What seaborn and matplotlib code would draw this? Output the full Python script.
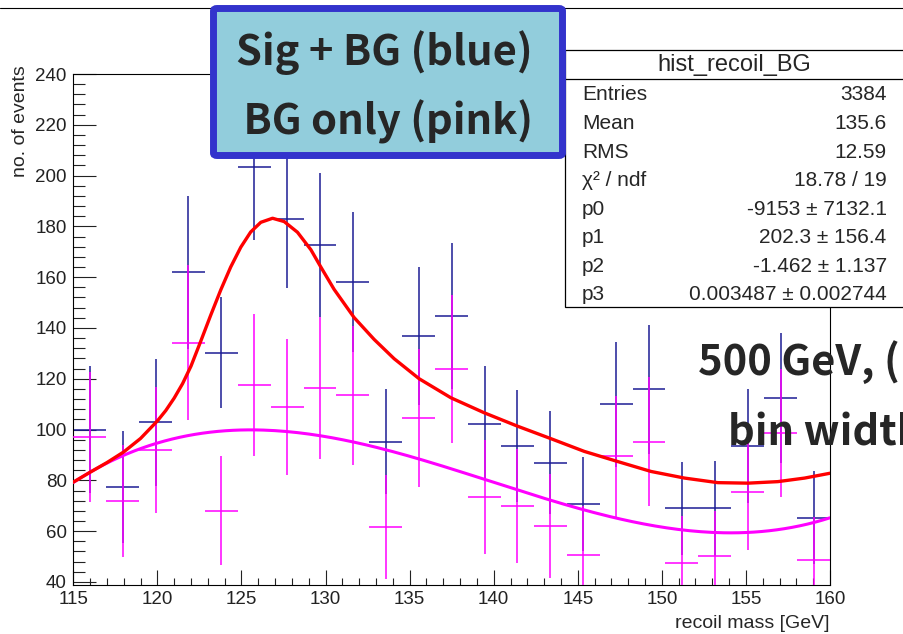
import numpy as np
import pandas as pd
import matplotlib
matplotlib.use("Agg")
import matplotlib.pyplot as plt
import seaborn as sns
from matplotlib.patches import Rectangle, FancyBboxPatch
from matplotlib.lines import Line2D
from matplotlib.ticker import MultipleLocator

# ---- histogram binning (recoil mass, GeV) ----
mass_lo, mass_hi, n_bins = 115.0, 160.0, 23

# Signal + background histogram (blue)
sig_bg_counts = [100.0, 77.5, 102.8, 161.9, 130.3, 203.4, 182.8, 172.7, 158.2, 95.3, 136.7, 144.7,
                 102.3, 93.4, 86.9, 70.7, 110.0, 115.8, 69.0, 69.0, 93.4, 112.3, 65.3]
sig_bg_errors = [25.0, 22.0, 25.0, 30.0, 21.7, 28.6, 27.0, 28.5, 27.5, 20.5, 27.2, 28.7,
                 22.7, 22.0, 20.3, 18.5, 24.6, 25.4, 18.4, 18.8, 22.4, 25.6, 18.2]

# Background-only histogram (pink)
bg_counts = [97.1, 71.8, 92.0, 134.2, 68.1, 117.4, 108.8, 116.3, 113.5, 61.5, 104.6, 123.8,
             73.4, 70.0, 62.0, 50.8, 89.4, 95.3, 47.5, 50.1, 75.5, 98.6, 48.6]
bg_errors = [25.7, 22.0, 24.7, 30.6, 21.3, 28.0, 26.7, 28.0, 27.4, 20.5, 27.1, 29.0,
             22.4, 22.5, 20.5, 19.0, 23.7, 25.4, 18.5, 18.0, 23.0, 25.2, 17.0]

# Signal + background fit curve (red)
sig_bg_fit_mass = [115.0, 116.0, 117.0, 118.0, 119.0, 120.0, 120.5, 121.0, 121.5, 122.0, 122.58,
                   123.17, 123.77, 124.36, 124.96, 125.55, 126.15, 126.85, 127.54, 128.33, 129.13,
                   129.72, 130.51, 131.70, 132.89, 134.08, 135.57, 137.46, 139.44, 141.43, 143.41,
                   145.39, 147.38, 149.36, 151.35, 153.33, 155.12, 156.90, 158.49, 160.0]
sig_bg_fit_value = [79.3, 83.2, 87.0, 91.2, 96.5, 103.4, 107.5, 112.4, 118.1, 125.0, 134.8,
                    145.0, 155.0, 164.0, 171.8, 177.8, 181.6, 183.2, 181.9, 177.7, 170.8,
                    164.0, 155.2, 144.1, 135.5, 127.9, 120.0, 112.5, 106.6, 101.3, 96.4,
                    91.4, 87.4, 83.5, 80.9, 79.1, 78.9, 79.5, 80.9, 82.8]

# Background cubic fit p0 + p1*m + p2*m^2 + p3*m^3 (pink curve)
bg_fit_coeffs = [-9152.6, 202.349, -1.46245, 0.00348651]

# Statistics box contents
stats_title = "hist_recoil_BG"
stats_names = ["Entries", "Mean", "RMS", "\u03c7\u00b2 / ndf", "p0", "p1", "p2", "p3"]
stats_values = ["3384", "135.6", "12.59", "18.78 / 19", "-9153 \u00b1 7132.1",
                "202.3 \u00b1 156.4", "-1.462 \u00b1 1.137", "0.003487 \u00b1 0.002744"]

legend_lines = ["Sig + BG (blue)", " BG only (pink)"]
note_lines = ["500 GeV, (", "bin width"]

x_ticks = [115, 120, 125, 130, 135, 140, 145, 150, 155, 160]
y_ticks = [40, 60, 80, 100, 120, 140, 160, 180, 200, 220, 240]

# ---- derived tables ----
edges = np.linspace(mass_lo, mass_hi, n_bins + 1)
centers = 0.5 * (edges[:-1] + edges[1:])
half_w = 0.5 * (edges[1:] - edges[:-1])

fit_grid = np.linspace(mass_lo, mass_hi, 200)
bg_fit_df = pd.DataFrame({
    "mass": fit_grid,
    "events": sum(c * fit_grid ** i for i, c in enumerate(bg_fit_coeffs)),
})
sig_fit_df = pd.DataFrame({"mass": sig_bg_fit_mass, "events": sig_bg_fit_value})

# ---- style ----
sns.set_theme(style="ticks")
plt.rcParams["font.family"] = ["Liberation Sans", "DejaVu Sans"]
plt.rcParams["axes.edgecolor"] = "black"
plt.rcParams["xtick.color"] = "#222222"
plt.rcParams["ytick.color"] = "#222222"

W, H = 904, 634
fig = plt.figure(figsize=(W / 100, H / 100), dpi=100)
fig.patch.set_facecolor("white")


def fx(px):
    return px / W


def fy(py):
    return 1 - py / H


ax_l, ax_r, ax_t, ax_b = 73.3, 830.0, 74.0, 585.0
ax = fig.add_axes([fx(ax_l), fy(ax_b), (ax_r - ax_l) / W, (ax_b - ax_t) / H])
ax.set_facecolor("white")

blue = "#1c1c94"
pink = "#ff00ff"

ax.errorbar(centers, sig_bg_counts, xerr=half_w, yerr=sig_bg_errors, fmt="none",
            ecolor=blue, elinewidth=1.1, capsize=0, zorder=2)
ax.errorbar(centers, bg_counts, xerr=half_w, yerr=bg_errors, fmt="none",
            ecolor=pink, elinewidth=1.1, capsize=0, zorder=3)

sns.lineplot(data=bg_fit_df, x="mass", y="events", ax=ax, color=pink,
             linewidth=2.2, sort=False, estimator=None, zorder=4)
sns.lineplot(data=sig_fit_df, x="mass", y="events", ax=ax, color="#ff0000",
             linewidth=2.4, sort=False, estimator=None, zorder=5)

ax.set_xlim(mass_lo, mass_hi)
ax.set_ylim(38.8, 240)
ax.set_xticks(x_ticks)
ax.set_yticks(y_ticks)
ax.xaxis.set_minor_locator(MultipleLocator(1))
ax.yaxis.set_minor_locator(MultipleLocator(4))
ax.set_xlabel("")
ax.set_ylabel("")
ax.tick_params(axis="y", which="major", direction="in", length=16.6, width=0.8,
               labelsize=13.5, pad=4.8)
ax.tick_params(axis="y", which="minor", direction="in", length=8.4, width=0.8)
ax.tick_params(axis="x", which="major", direction="in", length=10.8, width=0.8,
               labelsize=13.5, pad=4.0)
ax.tick_params(axis="x", which="minor", direction="in", length=4.8, width=0.8)
for sp in ax.spines.values():
    sp.set_visible(True)
    sp.set_linewidth(0.8)
    sp.set_color("black")

# axis titles
fig.text(fx(830), fy(628), "recoil mass [GeV]", ha="right", va="baseline", fontsize=14)
fig.text(fx(21), fy(65), "no. of events", ha="center", va="top", rotation=90, fontsize=14)

# outer top rule
fig.add_artist(Line2D([0, 1], [fy(8), fy(8)], transform=fig.transFigure,
                      color="black", linewidth=0.8, zorder=1))

# statistics box
fig.add_artist(Rectangle((fx(565), fy(307)), (906 - 565) / W, (307 - 50) / H,
                         transform=fig.transFigure, facecolor="white",
                         edgecolor="black", linewidth=0.9, zorder=10))
fig.add_artist(Line2D([fx(565), fx(906)], [fy(79), fy(79)], transform=fig.transFigure,
                      color="black", linewidth=0.9, zorder=11))
fig.text(fx(734), fy(65), stats_title, ha="center", va="center", fontsize=17, zorder=12)
row0, row_step = 95.0, 28.57
for i, (name, val) in enumerate(zip(stats_names, stats_values)):
    yy = row0 + i * row_step
    fig.text(fx(582), fy(yy), name, ha="left", va="center", fontsize=15, zorder=12)
    fig.text(fx(886.7), fy(yy), val, ha="right", va="center", fontsize=15, zorder=12)

# legend box
fig.add_artist(FancyBboxPatch((fx(213.5), fy(155.5)), (562.5 - 213.5) / W, (155.5 - 8.5) / H,
                              boxstyle="round,pad=0,rounding_size=0.004",
                              transform=fig.transFigure, facecolor="#92cddc",
                              edgecolor="#3333cc", linewidth=5.0, zorder=20))
cjk = ["Noto Sans CJK JP", "DejaVu Sans"]
fig.text(fx(384), fy(65), legend_lines[0], ha="center", va="baseline", fontsize=30,
         fontweight="bold", family=cjk, zorder=21)
fig.text(fx(384), fy(135), legend_lines[1], ha="center", va="baseline", fontsize=30,
         fontweight="bold", family=cjk, zorder=21)

# run note
fig.text(fx(698), fy(375), note_lines[0], ha="left", va="baseline", fontsize=30,
         fontweight="bold", family=cjk, zorder=21)
fig.text(fx(728), fy(445), note_lines[1], ha="left", va="baseline", fontsize=30,
         fontweight="bold", family=cjk, zorder=21)

fig.savefig("out.png", dpi=100, facecolor="white")
